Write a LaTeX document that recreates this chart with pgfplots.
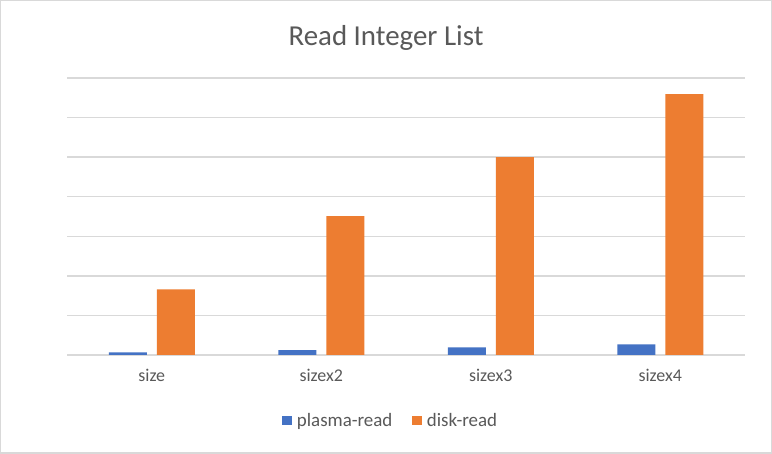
\documentclass[border=0pt]{standalone}
\usepackage{pgfplots}
\pgfplotsset{compat=1.18}
\usepackage{fontspec}
\setmainfont{Carlito}
\definecolor{xlblue}{HTML}{4472C4}
\definecolor{xlorange}{HTML}{ED7D31}
\definecolor{xlgrid}{HTML}{D9D9D9}
\definecolor{xltext}{HTML}{595959}

\begin{document}
\begin{tikzpicture}[x=1bp,y=1bp]
\draw[draw=xlgrid, line width=1.5bp, fill=white] (0.75,0.75) rectangle (771.25,453.25);
\node[text=xltext, font=\fontsize{29}{34}\selectfont] at (386,416) {Read Integer List};
\begin{axis}[
  at={(67bp,99bp)}, anchor=south west,
  scale only axis, width=678bp, height=277bp,
  ybar=10bp, bar width=38bp,
  xmin=-0.5, xmax=3.5, ymin=0, ymax=7,
  xtick=data, xticklabels={size, sizex2, sizex3, sizex4},
  major tick length=0pt,
  xticklabel style={font=\fontsize{18}{21}\selectfont, text=xltext, yshift=-11bp},
  ytick={1,2,...,7}, yticklabels={}, ymajorgrids,
  grid style={xlgrid, line width=1.5bp},
  axis line style={draw=none},
  legend style={at={(0.4775,-0.238)}, anchor=center, draw=none, fill=none,
    legend columns=-1, font=\fontsize{19}{22}\selectfont, text=xltext,
    /tikz/every even column/.append style={column sep=18bp}},
  legend image code/.code={\fill[#1] (0bp,-4.5bp) rectangle (9.5bp,5bp); \path (12.5bp,0bp);},
  clip=false,
]
\draw[xlgrid, line width=1.5bp] (axis cs:-0.5,0) -- (axis cs:3.5,0);
\addplot[fill=xlblue, draw=none] coordinates {(0,0.067) (1,0.12) (2,0.19) (3,0.27)};
\addplot[fill=xlorange, draw=none] coordinates {(0,1.66) (1,3.51) (2,5.0) (3,6.59)};
\legend{plasma-read, disk-read}
\end{axis}
\end{tikzpicture}
\end{document}
